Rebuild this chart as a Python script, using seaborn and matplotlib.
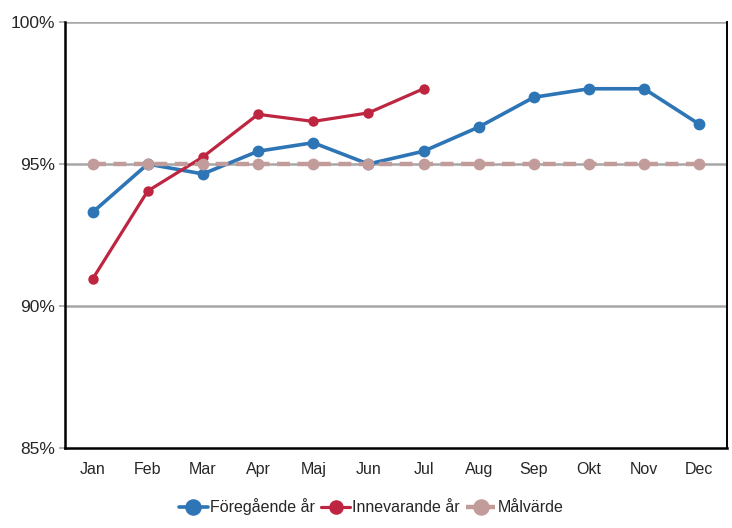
import matplotlib
matplotlib.use("Agg")
import matplotlib.pyplot as plt
import seaborn as sns
import pandas as pd

months = ["Jan", "Feb", "Mar", "Apr", "Maj", "Jun", "Jul", "Aug", "Sep", "Okt", "Nov", "Dec"]
foregaende = [93.3, 95.0, 94.65, 95.45, 95.75, 95.0, 95.45, 96.3, 97.35, 97.65, 97.65, 96.4]
innevarande = [90.95, 94.05, 95.25, 96.75, 96.5, 96.8, 97.65]
malvarde = [95.0] * 12
series_names = ["Föregående år", "Innevarande år", "Målvärde"]
y_ticks = [85, 90, 95, 100]
y_labels = ["85%", "90%", "95%", "100%"]

blue = "#2E75B6"
red = "#BE2540"
pink = "#C29C9A"

sns.set_style("white")
plt.rcParams["font.family"] = ["Liberation Sans", "DejaVu Sans"]

fig = plt.figure(figsize=(7.32, 5.28), dpi=100)
ax = fig.add_axes([0.0888, 0.1515, 0.9042, 0.8068])

df_prev = pd.DataFrame({"month": months, "value": foregaende})
df_cur = pd.DataFrame({"month": months[:len(innevarande)], "value": innevarande})
df_goal = pd.DataFrame({"month": months, "value": malvarde})

sns.lineplot(data=df_prev, x="month", y="value", ax=ax, color=blue, lw=2.6,
             marker="o", markersize=8.5, markeredgewidth=0, sort=False,
             label=series_names[0], zorder=3)
sns.lineplot(data=df_cur, x="month", y="value", ax=ax, color=red, lw=2.3,
             marker="o", markersize=7.5, markeredgewidth=0, sort=False,
             label=series_names[1], zorder=4)
sns.lineplot(data=df_goal, x="month", y="value", ax=ax, color=pink, lw=3.2,
             marker="o", markersize=8.5, markeredgewidth=0, sort=False,
             dashes=(2.9, 1.7), label=series_names[2], zorder=5)

ax.set_xlim(-0.5, len(months) - 0.5)
ax.set_ylim(85, 100)
ax.set_yticks(y_ticks)
ax.set_yticklabels(y_labels)
ax.set_xlabel("")
ax.set_ylabel("")

for y in y_ticks[1:]:
    ax.axhline(y, color="#A6A6A6", lw=1.8, zorder=1)

ax.tick_params(axis="y", length=4, width=1.2, color="#A6A6A6", labelsize=12.5, pad=3, left=True)
ax.tick_params(axis="x", length=0, labelsize=11.5, pad=10)

for side in ["left", "bottom"]:
    ax.spines[side].set_color("black")
    ax.spines[side].set_linewidth(1.8)
ax.spines["right"].set_color("black")
ax.spines["right"].set_linewidth(1.4)
ax.spines["top"].set_visible(False)

handles, labels = ax.get_legend_handles_labels()
ax.legend_.remove()
fig.legend(handles, labels, loc="center", bbox_to_anchor=(0.507, 0.04),
           ncol=3, frameon=False, fontsize=11.5, markerscale=1.4,
           handlelength=1.8, handletextpad=0.15, columnspacing=0.4)

fig.savefig("out.png", dpi=100)
